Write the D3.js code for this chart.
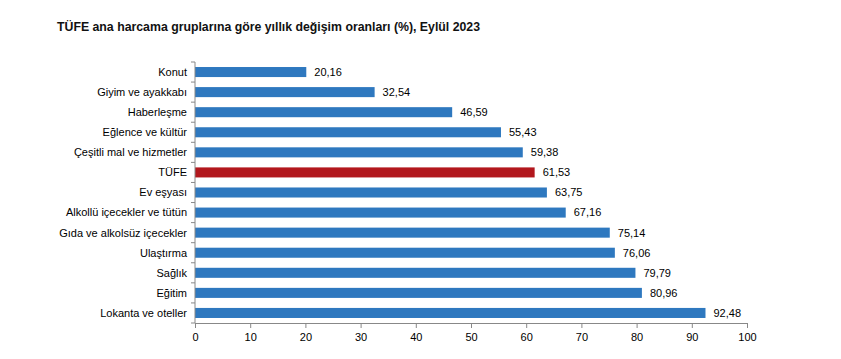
<!DOCTYPE html>
<html>
<head>
<meta charset="utf-8">
<script src="https://cdn.jsdelivr.net/npm/d3@7"></script>
<style>
  body { margin: 0; background: #fff; }
  svg text { font-family: "Liberation Sans", Arial, sans-serif; }
</style>
</head>
<body>
<svg id="chart" width="841" height="359"></svg>
<script>
const categories = [
  "Konut", "Giyim ve ayakkabı", "Haberleşme", "Eğlence ve kültür",
  "Çeşitli mal ve hizmetler", "TÜFE", "Ev eşyası", "Alkollü içecekler ve tütün",
  "Gıda ve alkolsüz içecekler", "Ulaştırma", "Sağlık", "Eğitim", "Lokanta ve oteller"
];
const values = [20.16, 32.54, 46.59, 55.43, 59.38, 61.53, 63.75, 67.16, 75.14, 76.06, 79.79, 80.96, 92.48];
const xTicks = [0, 10, 20, 30, 40, 50, 60, 70, 80, 90, 100];
const highlight = "TÜFE";

const svg = d3.select("#chart");
const margin = { top: 62, left: 195, right: 747, bottom: 323 };

const x = d3.scaleLinear().domain([0, 100]).range([margin.left, margin.right]);
const y = d3.scaleBand().domain(categories).range([margin.top, margin.bottom]).paddingInner(0.5).paddingOuter(0.25);

svg.append("text")
  .attr("x", 57)
  .attr("y", 31)
  .attr("font-size", "12.3px")
  .attr("font-weight", "bold")
  .attr("fill", "#111")
  .text("TÜFE ana harcama gruplarına göre yıllık değişim oranları (%), Eylül 2023");

// bars
svg.append("g").selectAll("rect")
  .data(categories)
  .enter().append("rect")
  .attr("x", x(0))
  .attr("y", d => y(d))
  .attr("width", (d, i) => x(values[i]) - x(0))
  .attr("height", y.bandwidth())
  .attr("fill", d => d === highlight ? "#B2171D" : "#2E78BF");

// value labels
svg.append("g").selectAll("text")
  .data(categories)
  .enter().append("text")
  .attr("x", (d, i) => x(values[i]) + 8)
  .attr("y", d => y(d) + y.bandwidth() / 2)
  .attr("dy", "0.35em")
  .attr("font-size", "11px")
  .attr("fill", "#000")
  .text((d, i) => values[i].toFixed(2).replace(".", ","));

// y axis with ticks on category boundaries
const yAxis = svg.append("g");
yAxis.append("line")
  .attr("x1", x(0)).attr("x2", x(0))
  .attr("y1", margin.top).attr("y2", margin.bottom)
  .attr("stroke", "#888");
const bounds = d3.range(categories.length + 1).map(i => margin.top + i * (margin.bottom - margin.top) / categories.length);
yAxis.selectAll(".yt")
  .data(bounds)
  .enter().append("line")
  .attr("x1", x(0) - 4).attr("x2", x(0))
  .attr("y1", d => d).attr("y2", d => d)
  .attr("stroke", "#888");
yAxis.selectAll("text")
  .data(categories)
  .enter().append("text")
  .attr("x", x(0) - 8)
  .attr("y", d => y(d) + y.bandwidth() / 2)
  .attr("dy", "0.35em")
  .attr("text-anchor", "end")
  .attr("font-size", "11px")
  .attr("fill", "#000")
  .text(d => d);

// x axis
const xAxis = svg.append("g")
  .attr("transform", `translate(0,${margin.bottom})`)
  .call(d3.axisBottom(x).tickValues(xTicks).tickSize(5).tickSizeOuter(0));
xAxis.select(".domain").attr("stroke", "#888");
xAxis.selectAll(".tick line").attr("stroke", "#888");
xAxis.selectAll(".tick text")
  .attr("font-family", "Liberation Sans, Arial, sans-serif")
  .attr("font-size", "11px")
  .attr("fill", "#000")
  .attr("dy", "0.9em");
</script>
</body>
</html>
